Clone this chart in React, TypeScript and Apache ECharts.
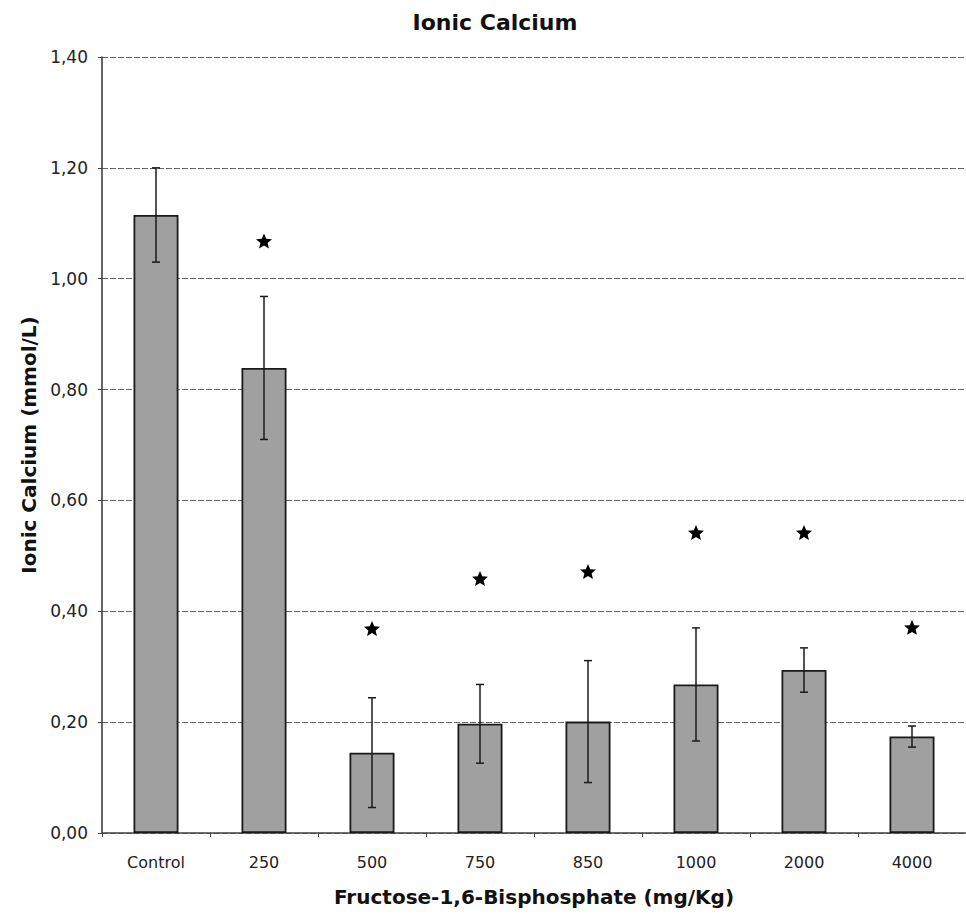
import React, { useEffect, useRef } from "react";
import * as echarts from "echarts";

const categories = ["Control", "250", "500", "750", "850", "1000", "2000", "4000"];
const means = [1.115, 0.839, 0.145, 0.197, 0.201, 0.268, 0.294, 0.174];
const errors = [0.085, 0.129, 0.099, 0.071, 0.11, 0.102, 0.04, 0.019];
const starValues: (number | null)[] = [null, 1.068, 0.369, 0.459, 0.472, 0.542, 0.542, 0.371];
const yMin = 0;
const yMax = 1.4;
const yInterval = 0.2;

const FONT = "DejaVu Sans";
const STAR =
  "path://M0,-10 L2.65,-3.64 L9.51,-3.09 L4.28,1.39 L5.88,8.09 L0,4.5 L-5.88,8.09 L-4.28,1.39 L-9.51,-3.09 L-2.65,-3.64 Z";

export default function App() {
  const ref = useRef<HTMLDivElement>(null);
  useEffect(() => {
    document.body.style.margin = "0";
    if (!ref.current) return;
    const chart = echarts.init(ref.current, null, { renderer: "svg" });
    const errData = means.map((m, i) => [i, m - errors[i], m + errors[i]]);
    const starData = starValues
      .map((v, i) => (v == null ? null : [i, v]))
      .filter((d) => d != null);
    chart.setOption({
      animation: false,
      backgroundColor: "#ffffff",
      title: {
        text: "Ionic Calcium",
        left: 490,
        top: 6,
        textAlign: "center",
        textStyle: { fontFamily: FONT, fontWeight: "bold", fontSize: 22, color: "#111" },
      },
      grid: { left: 102, top: 57, width: 872, bottom: 81, containLabel: false },
      xAxis: {
        type: "category",
        data: categories,
        name: "Fructose-1,6-Bisphosphate (mg/Kg)",
        nameLocation: "middle",
        nameGap: 54,
        nameTextStyle: { fontFamily: FONT, fontWeight: "bold", fontSize: 20, color: "#111" },
        axisLine: { lineStyle: { color: "#444", width: 1.5 } },
        axisTick: { show: true, length: 4, lineStyle: { color: "#444" } },
        axisLabel: { fontFamily: FONT, fontSize: 16, color: "#222", margin: 21 },
      },
      yAxis: {
        type: "value",
        min: yMin,
        max: yMax,
        interval: yInterval,
        name: "Ionic Calcium (mmol/L)",
        nameLocation: "middle",
        nameGap: 63,
        nameTextStyle: { fontFamily: FONT, fontWeight: "bold", fontSize: 20, color: "#111" },
        axisLine: { show: true, lineStyle: { color: "#333", width: 1.5 } },
        axisTick: { show: true, length: 4, lineStyle: { color: "#444" } },
        axisLabel: {
          fontFamily: FONT,
          fontSize: 17,
          color: "#222",
          margin: 14,
          formatter: (v: number) => v.toFixed(2).replace(".", ","),
        },
        splitLine: { show: true, lineStyle: { color: "#666", width: 1, type: [6, 2] } },
      },
      series: [
        {
          type: "bar",
          data: means,
          barWidth: 45,
          itemStyle: { color: "#a0a0a0", borderColor: "#1a1a1a", borderWidth: 1.8 },
          z: 2,
        },
        {
          type: "custom",
          data: errData,
          encode: { x: 0, y: [1, 2] },
          z: 5,
          renderItem: (params: any, api: any) => {
            const x = api.value(0);
            const lo = api.coord([x, api.value(1)]);
            const hi = api.coord([x, api.value(2)]);
            const hw = 4;
            const st = { stroke: "#1a1a1a", lineWidth: 1.5 };
            return {
              type: "group",
              children: [
                { type: "line", shape: { x1: hi[0], y1: hi[1], x2: lo[0], y2: lo[1] }, style: st },
                { type: "line", shape: { x1: hi[0] - hw, y1: hi[1], x2: hi[0] + hw, y2: hi[1] }, style: st },
                { type: "line", shape: { x1: lo[0] - hw, y1: lo[1], x2: lo[0] + hw, y2: lo[1] }, style: st },
              ],
            };
          },
        },
        {
          type: "scatter",
          data: starData,
          symbol: STAR,
          symbolSize: [16, 15],
          itemStyle: { color: "#000", opacity: 1 },
          z: 6,
        },
      ],
    });
    return () => chart.dispose();
  }, []);
  return <div ref={ref} style={{ width: 966, height: 914 }} />;
}
